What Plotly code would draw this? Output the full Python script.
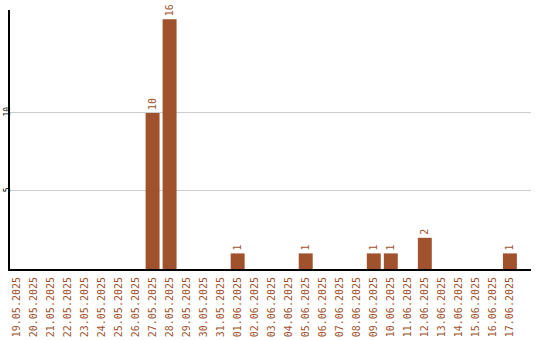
import plotly.graph_objects as go

dates = ["19.05.2025","20.05.2025","21.05.2025","22.05.2025","23.05.2025","24.05.2025",
         "25.05.2025","26.05.2025","27.05.2025","28.05.2025","29.05.2025","30.05.2025",
         "31.05.2025","01.06.2025","02.06.2025","03.06.2025","04.06.2025","05.06.2025",
         "06.06.2025","07.06.2025","08.06.2025","09.06.2025","10.06.2025","11.06.2025",
         "12.06.2025","13.06.2025","14.06.2025","15.06.2025","16.06.2025","17.06.2025"]
counts = [0,0,0,0,0,0,0,0,10,16,0,0,0,1,0,0,0,1,0,0,0,1,1,0,2,0,0,0,0,1]
y_ticks = [5, 10]

BROWN = "#A0522D"
FONT = "DejaVu Sans Mono"

xpos = list(range(len(dates)))
labels = [str(v) if v else "" for v in counts]

fig = go.Figure(go.Bar(
    x=xpos, y=counts, width=0.82,
    marker=dict(color=BROWN, line=dict(width=0)),
    text=labels, textposition="outside", textangle=-90,
    textfont=dict(family=FONT, size=10, color=BROWN),
    cliponaxis=False,
))

fig.update_layout(
    width=540, height=340,
    margin=dict(l=10, r=9, t=10, b=71),
    plot_bgcolor="white", paper_bgcolor="white",
    showlegend=False,
    bargap=0.18,
)
fig.update_xaxes(
    automargin=False,
    range=[-0.38, 30.24],
    tickmode="array", tickvals=xpos, ticktext=dates,
    tickangle=-90,
    tickfont=dict(family=FONT, size=10, color=BROWN),
    showline=True, linecolor="black", linewidth=2,
    showgrid=False, zeroline=False,
    ticks="outside", ticklen=2, tickcolor="rgba(0,0,0,0)",
)
fig.update_yaxes(
    automargin=False,
    range=[0, 16.6],
    tickmode="array", tickvals=y_ticks,
    tickangle=-90,
    tickfont=dict(family=FONT, size=8, color="black"),
    showline=True, linecolor="black", linewidth=2,
    showgrid=True, gridcolor="#cccccc", gridwidth=1,
    zeroline=False,
    ticks="", ticklabelstandoff=-5,
)

fig.write_html("out.html")
